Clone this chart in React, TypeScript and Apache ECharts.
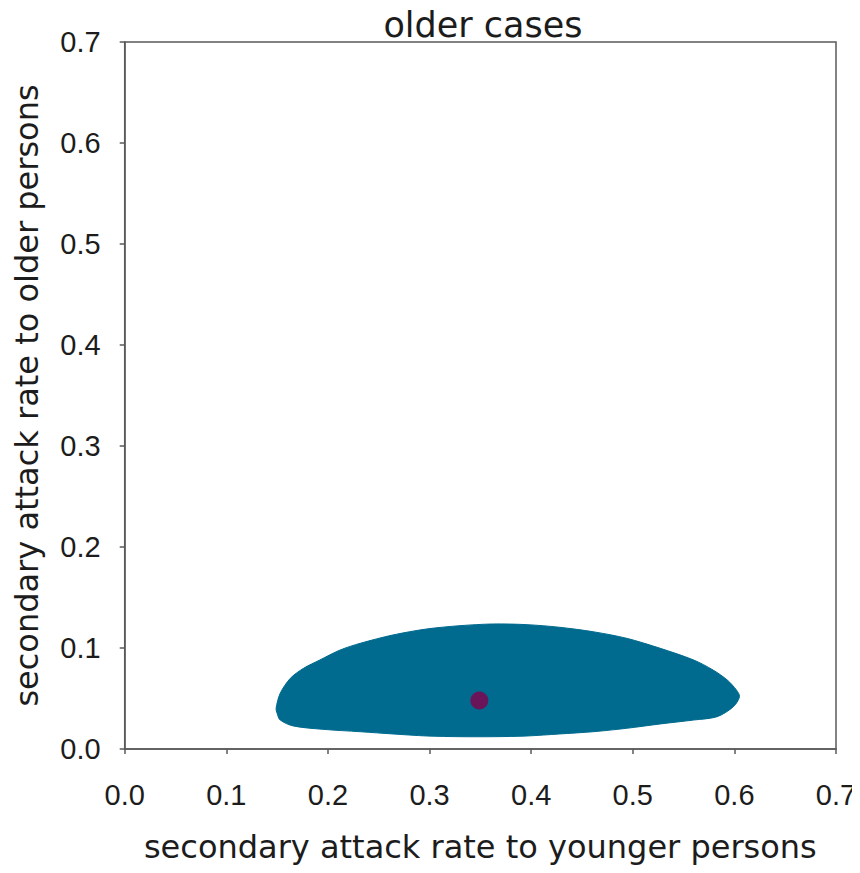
import React, { useEffect, useRef } from "react";
import * as echarts from "echarts";

const titleText = "older cases";
const xAxisName = "secondary attack rate to younger persons";
const yAxisName = "secondary attack rate to older persons";

// confidence region boundary (x = rate to younger, y = rate to older)
const regionX = [
  0.149, 0.153, 0.163, 0.176, 0.192, 0.212, 0.232, 0.264, 0.297, 0.33, 0.363,
  0.396, 0.428, 0.461, 0.494, 0.527, 0.56, 0.579, 0.593, 0.602, 0.605, 0.599,
  0.583, 0.56, 0.527, 0.494, 0.461, 0.428, 0.396, 0.363, 0.33, 0.297, 0.264,
  0.232, 0.195, 0.166, 0.153, 0.15,
];
const regionY = [
  0.0403, 0.0551, 0.07, 0.0799, 0.0881, 0.098, 0.1047, 0.1129, 0.1188, 0.1221,
  0.1238, 0.1231, 0.1205, 0.1161, 0.1096, 0.0997, 0.0881, 0.0782, 0.0683,
  0.0584, 0.0518, 0.0419, 0.032, 0.0287, 0.0248, 0.0205, 0.0171, 0.0149,
  0.0129, 0.0122, 0.0122, 0.0129, 0.0149, 0.0171, 0.0195, 0.0228, 0.0287,
  0.0353,
];

// point estimate
const estimateX = [0.349];
const estimateY = [0.048];

const ticks = [0, 0.1, 0.2, 0.3, 0.4, 0.5, 0.6, 0.7];

const NAME_FONT = "'DejaVu Sans', Arial, sans-serif";
const TICK_FONT = "'Liberation Sans', Arial, Helvetica, sans-serif";
const TEXT = "#1c1c1c";
const AXIS = "#5a5a5a";

export default function App() {
  const ref = useRef<HTMLDivElement>(null);

  useEffect(() => {
    if (!ref.current) return;
    const chart = echarts.init(ref.current, null, { renderer: "svg" });
    const regionData = regionX.map((x, i) => [x, regionY[i]]);
    const estData = estimateX.map((x, i) => [x, estimateY[i]]);

    const axisCommon = {
      type: "value" as const,
      min: ticks[0],
      max: ticks[ticks.length - 1],
      interval: 0.1,
      nameLocation: "middle" as const,
      nameTextStyle: { fontFamily: NAME_FONT, fontSize: 32, color: TEXT },
      axisLine: { show: true, lineStyle: { color: AXIS, width: 1.5 } },
      axisTick: { show: true, inside: false, length: 5, lineStyle: { color: AXIS, width: 1.5 } },
      splitLine: { show: false },
      axisLabel: {
        fontFamily: TICK_FONT,
        fontSize: 29,
        color: TEXT,
        formatter: (v: number) => v.toFixed(1),
      },
    };

    chart.setOption({
      animation: false,
      backgroundColor: "#ffffff",
      title: {
        text: titleText,
        left: 478,
        top: 2,
        textAlign: "center",
        textStyle: { fontFamily: NAME_FONT, fontSize: 35, fontWeight: "normal", color: TEXT },
      },
      grid: {
        left: 124.7,
        right: 24,
        top: 42,
        bottom: 124,
        show: true,
        borderColor: AXIS,
        borderWidth: 1.5,
        backgroundColor: "transparent",
      },
      xAxis: {
        ...axisCommon,
        name: xAxisName,
        nameGap: 82,
        axisLabel: { ...axisCommon.axisLabel, margin: 31 },
      },
      yAxis: {
        ...axisCommon,
        name: yAxisName,
        nameGap: 82,
        axisLabel: { ...axisCommon.axisLabel, margin: 24 },
      },
      series: [
        {
          type: "custom",
          data: regionData,
          renderItem: (params: any, api: any) => {
            if (params.dataIndex !== 0) return null;
            const pts = regionData.map((d) => api.coord(d));
            return {
              type: "polygon",
              shape: { points: pts, smooth: 0.3 },
              style: { fill: "#006a8f", stroke: "#006a8f", lineWidth: 1 },
            };
          },
          z: 2,
        },
        {
          type: "scatter",
          data: estData,
          symbol: "circle",
          symbolSize: 18,
          itemStyle: { color: "#85004b" },
          z: 3,
        },
      ],
    });

    return () => chart.dispose();
  }, []);

  return <div ref={ref} style={{ width: 860, height: 873, margin: -8 }} />;
}
